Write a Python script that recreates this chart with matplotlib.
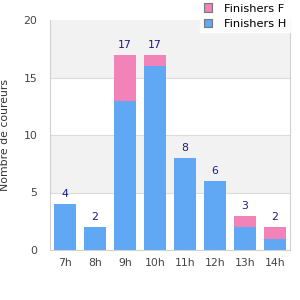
import matplotlib.pyplot as plt
import numpy as np

heures = ["7h", "8h", "9h", "10h", "11h", "12h", "13h", "14h"]
finishers_h = [4, 2, 13, 16, 8, 6, 2, 1]
finishers_f = [0, 0, 4, 1, 0, 0, 1, 1]

bleu = "#60a8f4"
rose = "#f283b9"

fig = plt.figure(figsize=(3, 3), dpi=100)
ax = fig.add_axes([50 / 300, 50 / 300, 240 / 300, 230 / 300])

x = np.arange(len(heures))
totals = np.array(finishers_h) + np.array(finishers_f)

# bandes alternees
for lo in (5, 15):
    ax.axhspan(lo, lo + 5, color="#f2f2f2", zorder=0, lw=0)
for y in (5, 10, 15):
    ax.axhline(y, color="#dcdcdc", lw=0.8, zorder=1)

bh = ax.bar(x, finishers_h, width=0.73, color=bleu, zorder=2, label="Finishers H")
bf = ax.bar(x, finishers_f, width=0.73, bottom=finishers_h, color=rose, zorder=2,
            label="Finishers F")

for xi, t in zip(x, totals):
    ax.text(xi, t + 0.4, str(t), ha="center", va="bottom", fontsize=7.8,
            color="#1a1a8c")

ax.set_xlim(-0.5, len(heures) - 0.5)
ax.set_ylim(0, 20)
ax.set_xticks(x)
ax.set_xticklabels(heures)
ax.set_yticks([0, 5, 10, 15, 20])
ax.tick_params(length=0, labelsize=7.8, colors="#444444", pad=6)
ax.tick_params(axis="y", pad=9)
ax.set_ylabel("Nombre de coureurs", fontsize=7.8, color="#333333", labelpad=10)

for side in ("left", "bottom", "right"):
    ax.spines[side].set_color("#d0d0d0")
ax.spines["top"].set_visible(False)

leg = fig.legend(handles=[bf, bh], labels=["Finishers F", "Finishers H"],
                 loc="upper right", bbox_to_anchor=(0.965, 1.0), fontsize=8.2,
                 frameon=True, fancybox=False, handlelength=0.75, handleheight=0.75,
                 borderpad=0.3, labelspacing=0.45, handletextpad=1.0,
                 borderaxespad=0.0)
leg.get_frame().set_edgecolor("white")
leg.get_frame().set_facecolor("white")
for h in leg.legend_handles:
    h.set_edgecolor("#777777")
    h.set_linewidth(0.8)

fig.savefig("out.png", dpi=100)
